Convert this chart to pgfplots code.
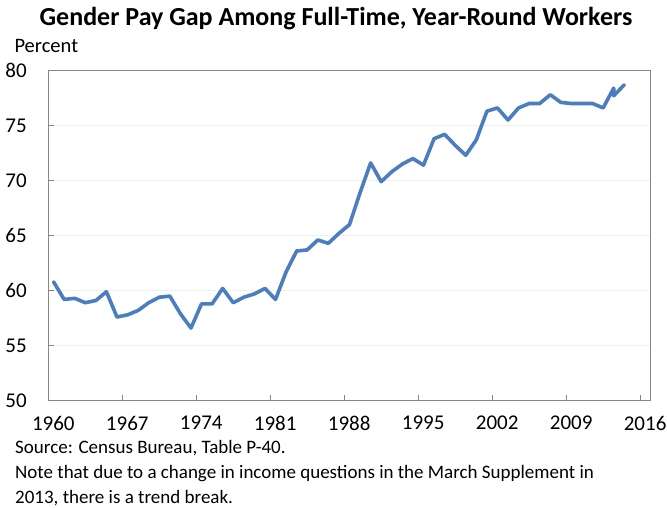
\documentclass[border=0pt]{standalone}
\usepackage{fontspec}
\setmainfont{Carlito}
\usepackage{pgfplots}
\pgfplotsset{compat=1.18}
\usepackage{pgfplotstable}

\definecolor{lineblue}{RGB}{74,126,190}
\definecolor{framegray}{RGB}{134,134,134}
\definecolor{gridgray}{RGB}{240,240,240}

% women's earnings as a percent of men's (2013 appears twice: trend break)
\pgfplotstableread{
year ratio
1960 60.8
1961 59.2
1962 59.3
1963 58.9
1964 59.1
1965 59.9
1966 57.6
1967 57.8
1968 58.2
1969 58.9
1970 59.4
1971 59.5
1972 57.9
1973 56.6
1974 58.8
1975 58.8
1976 60.2
1977 58.9
1978 59.4
1979 59.7
1980 60.2
1981 59.2
1982 61.7
1983 63.6
1984 63.7
1985 64.6
1986 64.3
1987 65.2
1988 66.0
1989 68.9
1990 71.6
1991 69.9
1992 70.8
1993 71.5
1994 72.0
1995 71.4
1996 73.8
1997 74.2
1998 73.2
1999 72.3
2000 73.7
2001 76.3
2002 76.6
2003 75.5
2004 76.6
2005 77.0
2006 77.0
2007 77.8
2008 77.1
2009 77.0
2010 77.0
2011 77.0
2012 76.6
2013 78.4
2013 77.7
2014 78.7
}\paygap

\begin{document}
\begin{tikzpicture}[x=1pt,y=1pt]
\useasboundingbox (0,0) rectangle (667,508);

\node[font=\fontsize{26}{30}\selectfont\bfseries] at (336,489)
  {Gender Pay Gap Among Full-Time, Year-Round Workers};
\node[anchor=west,font=\fontsize{20.5}{24}\selectfont] at (11,462) {Percent};

\begin{axis}[
    at={(48.3pt,107.3pt)}, anchor=south west,
    scale only axis,
    width=602.4pt, height=330.2pt,
    xmin=1960, xmax=2017,
    ymin=50, ymax=80,
    xtick={1960,1967,...,2016},
    ytick={50,55,...,80},
    axis line style={framegray, line width=1.2pt},
    tick style={framegray, line width=1.2pt},
    tick align=inside,
    major tick length=6pt,
    xtick pos=bottom, ytick pos=left,
    ymajorgrids,
    grid style={gridgray, line width=1.2pt},
    ticklabel style={font=\fontsize{21}{24}\selectfont},
    xticklabel style={xshift=5pt, yshift=-12pt},
    yticklabel style={xshift=-18pt},
    /pgf/number format/1000 sep={},
    /pgf/number format/assume math mode=true,
    clip=false,
  ]
  \addplot[lineblue, line width=3.6pt, line join=round, line cap=round]
    table[x expr=\thisrow{year}+0.5, y=ratio] {\paygap};
\end{axis}

\begin{scope}[every node/.style={anchor=west, font=\fontsize{19}{22}\selectfont, inner sep=0pt}]
\node at (15,60) {Source: Census Bureau, Table P-40.};
\node at (15,34) {Note that due to a change in income questions in the March Supplement in};
\node at (15,10) {2013, there is a trend break.};
\end{scope}
\end{tikzpicture}
\end{document}
